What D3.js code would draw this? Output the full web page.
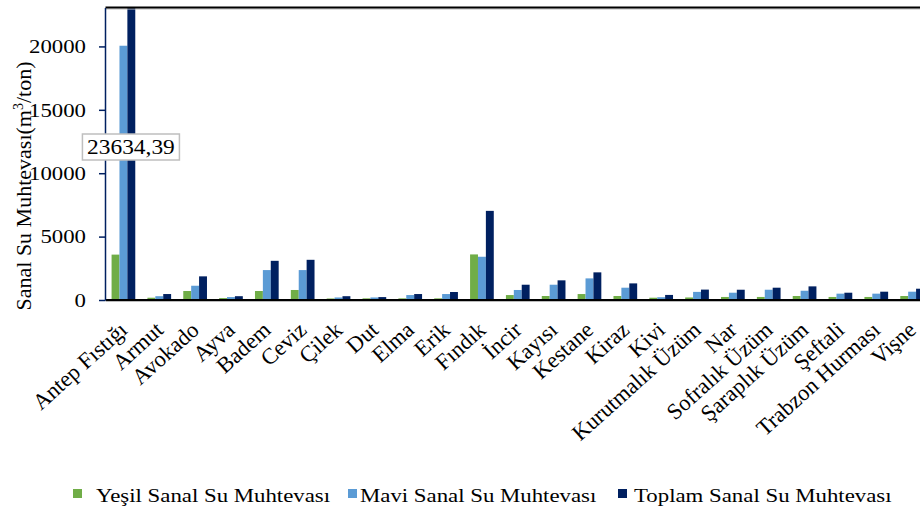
<!DOCTYPE html>
<html><head><meta charset="utf-8">
<script src="https://cdn.jsdelivr.net/npm/d3@7"></script>
<style>
html,body{margin:0;padding:0;background:#fff;}
svg{display:block;}
svg text{font-family:"Liberation Serif","Times New Roman",serif !important;font-weight:normal;}
</style>
</head><body>
<svg id="chart" width="920" height="511"></svg>
<script>
const categories = ["Antep Fıstığı","Armut","Avokado","Ayva","Badem","Ceviz","Çilek","Dut","Elma","Erik","Fındık","İncir","Kayısı","Kestane","Kiraz","Kivi","Kurutmalık Üzüm","Nar","Sofralık Üzüm","Şaraplık Üzüm","Şeftali","Trabzon Hurması","Vişne"];
const seriesNames = ["Yeşil Sanal Su Muhtevası","Mavi Sanal Su Muhtevası","Toplam Sanal Su Muhtevası"];
const yesil  = [3580, 180, 710, 150, 710, 790, 120, 130, 130, 130, 3595, 390, 315, 470, 315, 180, 200, 240, 240, 315, 240, 240, 315];
const mavi   = [20054, 300, 1125, 230, 2360, 2360, 200, 200, 390, 470, 3410, 790, 1205, 1705, 970, 220, 640, 575, 810, 730, 500, 500, 655];
const toplam = [23634.39, 470, 1865, 300, 3090, 3170, 300, 230, 470, 630, 7030, 1205, 1550, 2180, 1310, 400, 820, 810, 970, 1075, 575, 655, 890];
const yTicks = [0, 5000, 10000, 15000, 20000];
const colors = ["#70AD47", "#5B9BD5", "#002060"];

const W = 920, H = 511;
const plotLeft = 105.5, bandW = 35.85, plotTop = 7.5, plotBottom = 300;
const plotRight = plotLeft + bandW * categories.length;
const yMax = 23070;
const SX = 1.17;
const barW = 7.9;

const svg = d3.select("#chart");
const x = d3.scaleBand().domain(categories).range([plotLeft, plotRight]);
const xs = d3.scaleBand().domain(seriesNames).range([(bandW - 3 * barW) / 2, (bandW + 3 * barW) / 2]);
const y = d3.scaleLinear().domain([0, yMax]).range([plotBottom, plotTop]);
const color = d3.scaleOrdinal().domain(seriesNames).range(colors);

svg.append("defs").append("clipPath").attr("id", "plotclip")
  .append("rect").attr("x", plotLeft).attr("y", plotTop)
  .attr("width", plotRight - plotLeft).attr("height", plotBottom - plotTop);

const seriesVals = [yesil, mavi, toplam];
const data = categories.map((c, i) => ({cat: c, vals: seriesNames.map((s, k) => ({s, v: seriesVals[k][i]}))}));

const barsG = svg.append("g").attr("clip-path", "url(#plotclip)");
barsG.selectAll("g.grp").data(data).join("g").attr("class", "grp")
  .attr("transform", d => `translate(${x(d.cat)},0)`)
  .selectAll("rect").data(d => d.vals).join("rect")
  .attr("x", d => xs(d.s)).attr("width", xs.bandwidth())
  .attr("y", d => y(d.v)).attr("height", d => plotBottom - y(d.v))
  .attr("fill", d => color(d.s));

// top border
svg.append("line").attr("x1", plotLeft).attr("x2", W).attr("y1", plotTop + 1.5).attr("y2", plotTop + 1.5)
  .attr("stroke", "#bbb").attr("stroke-width", 1);
svg.append("line").attr("x1", plotLeft).attr("x2", W).attr("y1", plotTop).attr("y2", plotTop)
  .attr("stroke", "#000").attr("stroke-width", 2);

// x axis line
svg.append("line").attr("x1", plotLeft).attr("x2", W).attr("y1", plotBottom + 1.5).attr("y2", plotBottom + 1.5)
  .attr("stroke", "#bbb").attr("stroke-width", 1);
svg.append("line").attr("x1", plotLeft).attr("x2", W).attr("y1", plotBottom).attr("y2", plotBottom)
  .attr("stroke", "#000").attr("stroke-width", 2);

// y axis
const yAxis = svg.append("g").attr("transform", `translate(${plotLeft - 0.5},0)`)
  .call(d3.axisLeft(y).tickValues(yTicks).tickSize(6).tickSizeOuter(0).tickFormat(d3.format("d")));
yAxis.select(".domain").attr("stroke", "#002060").attr("stroke-width", 1.5);
yAxis.selectAll(".tick line").attr("stroke", "#002060").attr("stroke-width", 1.5);
yAxis.selectAll(".tick text").attr("font-size", 19.5).attr("fill", "#000")
  .attr("x", -19 / SX).attr("transform", `scale(${SX},1)`);

// x labels
svg.append("g").selectAll("text").data(categories).join("text")
  .attr("transform", d => `translate(${x(d) + bandW / 2},${plotBottom + 26}) rotate(-42)`)
  .attr("text-anchor", "end").attr("dy", "0.35em").attr("font-size", 22.5).attr("fill", "#000")
  .text(d => d);

// y title
const title = svg.append("text").attr("transform", `translate(23,186) rotate(-90)`)
  .attr("text-anchor", "middle").attr("dy", "0.35em").attr("font-size", 22).attr("fill", "#000");
title.append("tspan").text("Sanal Su Muhtevası(m");
title.append("tspan").attr("dy", -8).attr("font-size", 14).text("3");
title.append("tspan").attr("dy", 8).text("/ton)");

// data label
const fmt = d3.formatLocale({decimal: ",", thousands: ".", grouping: [3], currency: ["", ""]}).format(".2f");
const lblX = x(categories[0]) + bandW / 2 + 7.5, lblY = 147;
svg.append("rect").attr("x", lblX - 48.5).attr("y", lblY - 13).attr("width", 97).attr("height", 26)
  .attr("fill", "#fff").attr("stroke", "#bfbfbf").attr("stroke-width", 1.5);
svg.append("g").attr("transform", `translate(${lblX},${lblY}) scale(${SX},1)`)
  .append("text").attr("text-anchor", "middle").attr("dy", "0.35em").attr("font-size", 20).attr("fill", "#000")
  .text(fmt(toplam[0]));

// legend
const legSqX = [73, 348, 618], legTxX = [96, 360, 634];
const leg = svg.append("g").selectAll("g").data(seriesNames).join("g");
leg.append("rect").attr("x", (d, i) => legSqX[i]).attr("y", 489).attr("width", 9).attr("height", 9)
  .attr("fill", d => color(d));
leg.append("g").attr("transform", (d, i) => `translate(${legTxX[i]},502) scale(${SX},1)`)
  .append("text").attr("font-size", 19.5).attr("fill", "#000").text(d => d);
</script>
</body></html>
